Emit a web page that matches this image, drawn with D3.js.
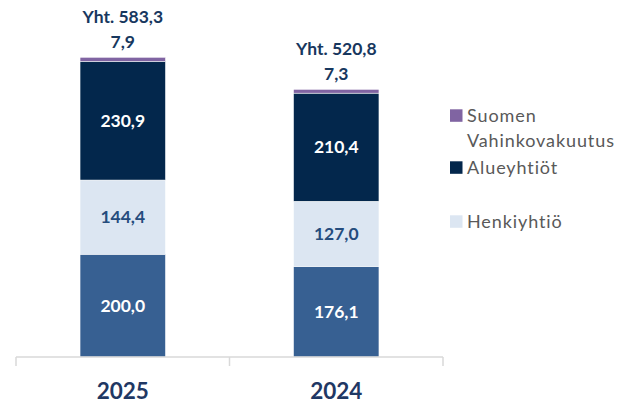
<!DOCTYPE html>
<html><head><meta charset="utf-8">
<script src="https://cdn.jsdelivr.net/npm/d3@7"></script>
<style>body{margin:0;background:#fff}svg{display:block}</style>
</head><body>
<svg id="c" width="620" height="403"></svg>
<script>
const categories = ["2025", "2024"];
const seriesNames = ["Henkiyhtiö (alaosa)", "Henkiyhtiö", "Alueyhtiöt", "Suomen Vahinkovakuutus"];
const bottomBlue = [200.0, 176.1];
const henki = [144.4, 127.0];
const alue = [230.9, 210.4];
const suomen = [7.9, 7.3];
const totals = ["Yht. 583,3", "Yht. 520,8"];
const legendLabels = [["Suomen", "Vahinkovakuutus"], ["Alueyhtiöt"], ["Henkiyhtiö"]];

const colors = ["#376092", "#DCE6F2", "#03274C", "#8064A2"];
const labelColors = ["#ffffff", "#254C7D", "#ffffff", "#17375E"];
const fmt = v => v.toFixed(1).replace(".", ",");

const svg = d3.select("#c");
const font = "Lato, 'Open Sans', sans-serif";

const x = d3.scaleBand().domain(categories).range([16, 443]).paddingInner(0.6).paddingOuter(0.3);
const y = d3.scaleLinear().domain([0, 600]).range([357, 48.7]);

const layers = [bottomBlue, henki, alue, suomen];
const rows = categories.map((c, i) => {
  const r = {cat: c};
  layers.forEach((l, k) => r["s" + k] = l[i]);
  return r;
});
const stack = d3.stack().keys(["s0", "s1", "s2", "s3"])(rows);

stack.forEach((layer, k) => {
  svg.append("g").selectAll("rect").data(layer).join("rect")
    .attr("x", d => x(d.data.cat))
    .attr("width", x.bandwidth())
    .attr("y", d => y(d[1]))
    .attr("height", d => y(d[0]) - y(d[1]))
    .attr("fill", colors[k])
    .attr("stroke", "#ffffff").attr("stroke-width", 0.5);
});

// inner labels
stack.slice(0, 3).forEach((layer, k) => {
  svg.append("g").selectAll("text").data(layer).join("text")
    .attr("x", d => x(d.data.cat) + x.bandwidth() / 2)
    .attr("y", d => (y(d[0]) + y(d[1])) / 2 + 6)
    .attr("text-anchor", "middle")
    .attr("font-family", font).attr("font-weight", "bold").attr("font-size", 17.5)
    .attr("fill", labelColors[k])
    .text(d => fmt(d[1] - d[0]));
});
// top small-segment label and totals
const topLayer = stack[3];
svg.append("g").selectAll("text").data(topLayer).join("text")
  .attr("x", d => x(d.data.cat) + x.bandwidth() / 2)
  .attr("y", d => y(d[1]) - 9)
  .attr("text-anchor", "middle")
  .attr("font-family", font).attr("font-weight", "bold").attr("font-size", 17.5)
  .attr("fill", labelColors[3])
  .text(d => fmt(d[1] - d[0]));
svg.append("g").selectAll("text").data(topLayer).join("text")
  .attr("x", d => x(d.data.cat) + x.bandwidth() / 2)
  .attr("y", d => y(d[1]) - 34)
  .attr("text-anchor", "middle")
  .attr("font-family", font).attr("font-weight", "bold").attr("font-size", 17.5)
  .attr("fill", labelColors[3])
  .text((d, i) => totals[i]);

// axis
const ax = svg.append("g").attr("transform", "translate(0,357)");
ax.append("line").attr("x1", 16).attr("x2", 443).attr("stroke", "#D9D9D9").attr("stroke-width", 1.5);
const edges = [16].concat(categories.map(c => x(c) + x.bandwidth() / 2 + x.step() / 2));
ax.selectAll("line.t").data(edges).join("line").attr("class", "t")
  .attr("x1", d => d).attr("x2", d => d).attr("y1", 0).attr("y2", 9)
  .attr("stroke", "#D9D9D9").attr("stroke-width", 1.5);
ax.selectAll("text").data(categories).join("text")
  .attr("x", d => x(d) + x.bandwidth() / 2)
  .attr("y", 41.5)
  .attr("text-anchor", "middle")
  .attr("font-family", font).attr("font-weight", "bold").attr("font-size", 22.5)
  .attr("fill", "#1F3864")
  .text(d => d);

// legend
const legY = [122.3, 174.3, 228.3];
const legColors = [colors[3], colors[2], colors[1]];
const lg = svg.append("g");
legendLabels.forEach((lines, i) => {
  lg.append("rect").attr("x", 450).attr("y", legY[i] - 13).attr("width", 12.5).attr("height", 12.5).attr("fill", legColors[i]);
  lines.forEach((t, j) => {
    lg.append("text").attr("x", 467).attr("y", legY[i] + j * 24.4)
      .attr("font-family", font).attr("font-size", 18).attr("letter-spacing", 0.9)
      .attr("fill", "#595959").text(t);
  });
});
</script>
</body></html>
